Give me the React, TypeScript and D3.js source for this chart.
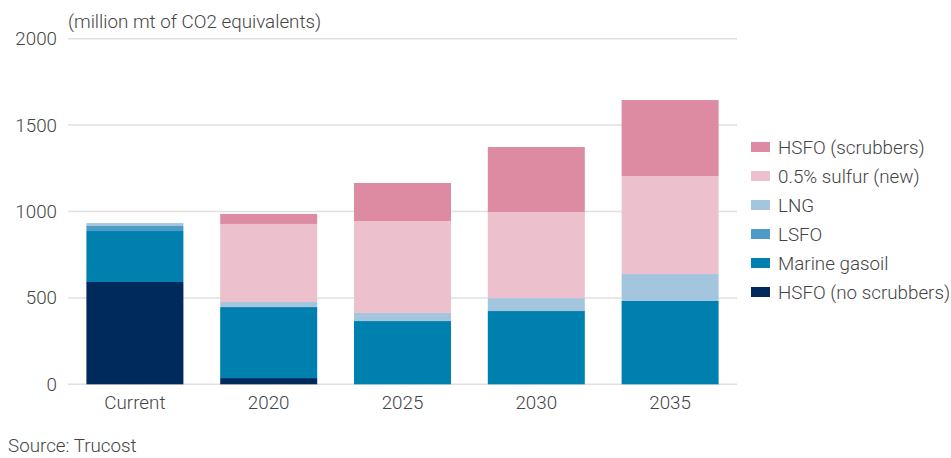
import React, { useRef, useEffect } from "react";
import * as d3 from "d3";

const categories = ["Current", "2020", "2025", "2030", "2035"];
const seriesNames = ["HSFO (no scrubbers)", "Marine gasoil", "LSFO", "LNG", "0.5% sulfur (new)", "HSFO (scrubbers)"];
const hsfoNoScrubbers = [592, 36, 0, 0, 0];
const marineGasoil = [295, 411, 366, 424, 482];
const lsfo = [29, 0, 0, 0, 0];
const lng = [17, 29, 47, 75, 156];
const sulfurNew = [0, 452, 532, 498, 567];
const hsfoScrubbers = [0, 58, 220, 376, 440];
const yTicks = [0, 500, 1000, 1500, 2000];
const colors = ["#002a5c", "#0080ae", "#4d9bc6", "#a3c6de", "#ecc0cd", "#dc8ba3"];

const App = () => {
  const ref = useRef(null);

  useEffect(() => {
    const svg = d3.select(ref.current);
    svg.selectAll("*").remove();

    const font = "Roboto, sans-serif";
    const fontSize = 18.8;
    const fontWeight = 300;
    const textColor = "#444";

    const x = d3.scaleBand().domain(categories).range([68, 737]).paddingInner(0.275).paddingOuter(0.1375);
    const y = d3.scaleLinear().domain([0, 2000]).range([384.3, 38.7]);

    const styleText = (sel) =>
      sel
        .attr("font-family", font)
        .attr("font-size", fontSize)
        .attr("font-weight", fontWeight)
        .attr("fill", textColor);

    // gridlines + y labels
    svg.append("g")
      .selectAll("line")
      .data(yTicks)
      .join("line")
      .attr("x1", 68)
      .attr("x2", 737)
      .attr("y1", (d) => y(d))
      .attr("y2", (d) => y(d))
      .attr("stroke", "#e0e0e0")
      .attr("stroke-width", 1.5);

    svg.append("g")
      .selectAll("text")
      .data(yTicks)
      .join("text")
      .attr("x", 57)
      .attr("y", (d) => y(d))
      .attr("dy", "0.35em")
      .attr("text-anchor", "end")
      .call(styleText)
      .text((d) => d);

    const rows = categories.map((c, i) => ({
      cat: c,
      [seriesNames[0]]: hsfoNoScrubbers[i],
      [seriesNames[1]]: marineGasoil[i],
      [seriesNames[2]]: lsfo[i],
      [seriesNames[3]]: lng[i],
      [seriesNames[4]]: sulfurNew[i],
      [seriesNames[5]]: hsfoScrubbers[i],
    }));
    const stacked = d3.stack().keys(seriesNames)(rows);

    svg.append("g")
      .selectAll("g")
      .data(stacked)
      .join("g")
      .attr("fill", (d, i) => colors[i])
      .selectAll("rect")
      .data((d) => d)
      .join("rect")
      .attr("x", (d) => x(d.data.cat))
      .attr("width", x.bandwidth())
      .attr("y", (d) => y(d[1]))
      .attr("height", (d) => y(d[0]) - y(d[1]));

    // category labels
    svg.append("g")
      .selectAll("text")
      .data(categories)
      .join("text")
      .attr("x", (d) => x(d) + x.bandwidth() / 2)
      .attr("y", 409)
      .attr("text-anchor", "middle")
      .call(styleText)
      .text((d) => d);

    svg.append("text")
      .attr("x", 68)
      .attr("y", 28)
      .call(styleText)
      .text("(million mt of CO2 equivalents)");

    svg.append("text")
      .attr("x", 8)
      .attr("y", 452)
      .call(styleText)
      .text("Source: Trucost");

    // legend, top = last series
    const legendItems = seriesNames.map((n, i) => ({ name: n, color: colors[i] })).reverse();
    const legend = svg.append("g")
      .selectAll("g")
      .data(legendItems)
      .join("g")
      .attr("transform", (d, i) => `translate(751,${147 + i * 29})`);
    legend.append("rect")
      .attr("x", 0)
      .attr("y", -5)
      .attr("width", 19)
      .attr("height", 10)
      .attr("fill", (d) => d.color);
    legend.append("text")
      .attr("x", 27)
      .attr("y", 0)
      .attr("dy", "0.35em")
      .call(styleText)
      .text((d) => d.name);
  }, []);

  return (
    <svg
      ref={ref}
      width={951}
      height={458}
      style={{ position: "absolute", left: 0, top: 0, background: "#fff" }}
    />
  );
};

export default App;
